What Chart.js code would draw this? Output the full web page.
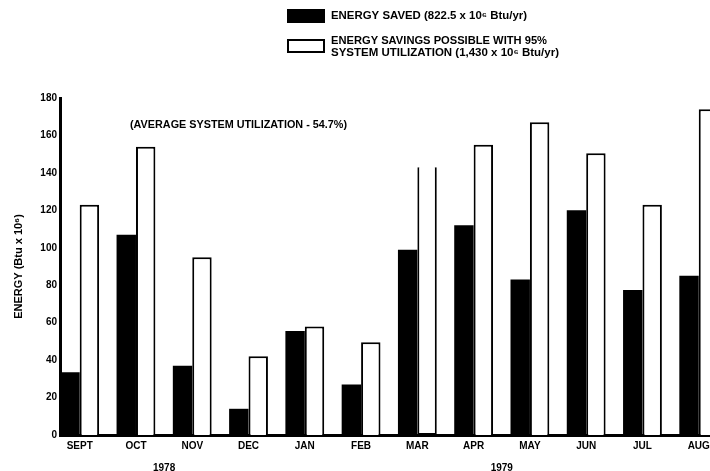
<!DOCTYPE html>
<html>
<head>
<meta charset="utf-8">
<script src="https://cdn.jsdelivr.net/npm/chart.js@4/dist/chart.umd.min.js"></script>
<style>
  html, body { margin: 0; padding: 0; background: #fff; overflow: hidden; }
  #wrap { width: 710px; height: 471px; position: relative; }
</style>
</head>
<body>
<div id="wrap"><canvas id="energy-chart" width="710" height="471"></canvas></div>
<script>
// monthly energy, 10^6 Btu
var months = ['SEPT', 'OCT', 'NOV', 'DEC', 'JAN', 'FEB', 'MAR', 'APR', 'MAY', 'JUN', 'JUL', 'AUG'];
var energySaved = [33.5, 107, 37, 14, 55.5, 27, 99, 112, 83, 120, 77.5, 85];
var possibleAt95 = [123, 154, 95, 42, 58, 49.5, 143, 155, 167, 150.5, 123, 174];

// years and the first / last month index they cover
var years = ['1978', '1979'];
var yearSpans = [[0, 3], [4, 11]];

var yMin = 0, yMax = 180, yStep = 20;

var savedLabel = 'ENERGY SAVED (822.5 x 10\u2076 Btu/yr)';
var possibleLabel = ['ENERGY SAVINGS POSSIBLE WITH 95%', 'SYSTEM UTILIZATION (1,430 x 10\u2076 Btu/yr)'];
var averageNote = '(AVERAGE SYSTEM UTILIZATION - 54.7%)';

var FONT = '"Liberation Sans", Arial, sans-serif';

function points(values) {
    return values.map(function (v, i) { return {x: i, y: v}; });
}

// draw left-aligned text stretched horizontally to the given width
function wideText(ctx, text, x, y, width) {
    var w = ctx.measureText(text).width;
    ctx.save();
    ctx.translate(x, y);
    ctx.scale(width / w, 1);
    ctx.fillText(text, 0, 0);
    ctx.restore();
}

/**
 * Legend box, average note and year captions
 */
var extraText = {
    id: 'extraText',
    afterDraw: function (chart) {
        var ctx = chart.ctx;
        var x = chart.scales.x;
        ctx.save();
        ctx.fillStyle = '#000';
        ctx.strokeStyle = '#000';

        // legend
        ctx.fillRect(287, 9, 38, 14);
        ctx.lineWidth = 2;
        ctx.strokeRect(288, 40, 36, 12);

        ctx.font = 'bold 10px ' + FONT;
        ctx.textBaseline = 'middle';
        ctx.textAlign = 'left';
        wideText(ctx, savedLabel, 331, 16, 196);
        wideText(ctx, possibleLabel[0], 331, 41, 216);
        wideText(ctx, possibleLabel[1], 331, 53, 228);

        // average note
        wideText(ctx, averageNote, 130, 125, 217);

        // years under the month labels
        ctx.textAlign = 'center';
        years.forEach(function (y, i) {
            var mid = (yearSpans[i][0] + yearSpans[i][1]) / 2;
            ctx.fillText(y, x.getPixelForValue(mid), 468);
        });
        ctx.restore();
    }
};

var ctx = document.getElementById('energy-chart').getContext('2d');
var chart = new Chart(ctx, {
    type: 'bar',
    data: {
        datasets: [{
            label: savedLabel,
            data: points(energySaved),
            backgroundColor: '#000',
            borderWidth: 0
        }, {
            label: possibleLabel.join(' '),
            data: points(possibleAt95),
            backgroundColor: '#fff',
            borderColor: '#000',
            borderWidth: 2,
            // MAR bar is left open at the top
            borderSkipped: function (c) { return c.dataIndex === 6 ? 'top' : 'start'; }
        }]
    },
    options: {
        responsive: false,
        maintainAspectRatio: false,
        animation: false,
        devicePixelRatio: 1,
        categoryPercentage: 0.69,
        barPercentage: 1,
        layout: {padding: {top: 98, right: 0, bottom: 0, left: 0}},
        plugins: {
            legend: {display: false},
            tooltip: {enabled: false}
        },
        scales: {
            x: {
                type: 'linear',
                offset: false,
                min: -0.35,
                max: 11.2,
                grid: {display: false, drawTicks: false},
                border: {display: true, color: '#000', width: 3},
                afterBuildTicks: function (axis) {
                    axis.ticks = months.map(function (m, i) { return {value: i}; });
                },
                afterFit: function (scale) {
                    // let the last bar run off the right edge
                    scale.height = 36;
                    scale.paddingLeft = 0;
                    scale.paddingRight = 0;
                },
                ticks: {
                    padding: 5,
                    color: '#000',
                    font: {family: FONT, size: 10, weight: 'bold'},
                    maxRotation: 0,
                    autoSkip: false,
                    callback: function (v) { return months[v]; }
                }
            },
            y: {
                min: yMin,
                max: yMax,
                grid: {display: false, drawTicks: false},
                border: {display: true, color: '#000', width: 3},
                afterFit: function (scale) { scale.width = 60; },
                ticks: {
                    stepSize: yStep,
                    padding: 3,
                    color: '#000',
                    font: {family: FONT, size: 10, weight: 'bold'}
                },
                title: {
                    display: true,
                    text: 'ENERGY (Btu x 10\u2076)',
                    color: '#000',
                    padding: {top: 12, bottom: 0},
                    font: {family: FONT, size: 11, weight: 'bold'}
                }
            }
        }
    },
    plugins: [extraText]
});
</script>
</body>
</html>
